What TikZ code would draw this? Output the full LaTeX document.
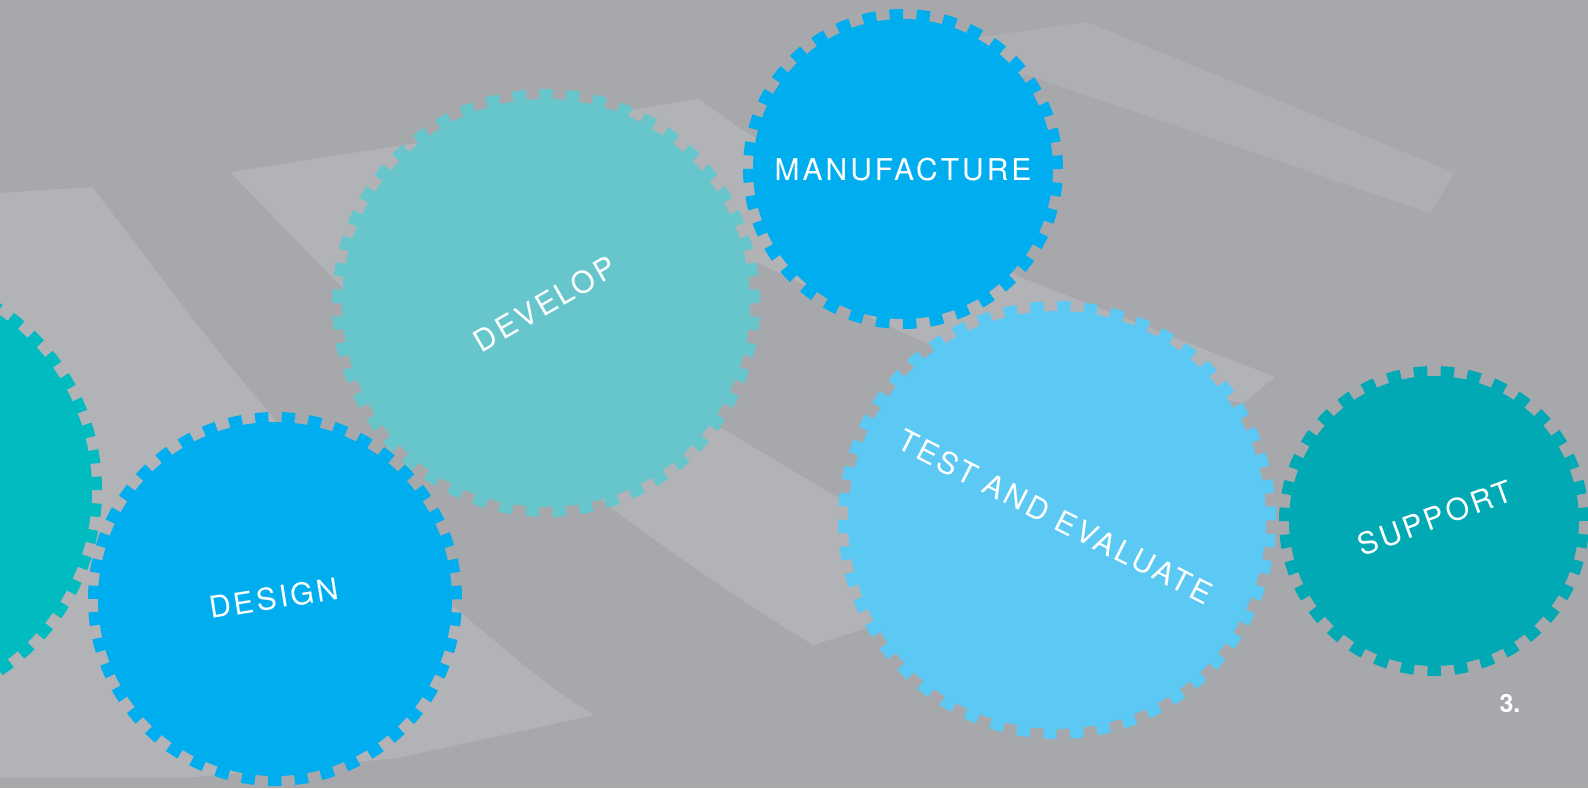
\documentclass[tikz,border=0pt]{standalone}
\usepackage{fontspec}
\newfontfamily\lab[LetterSpace=10]{TeX Gyre Heros}
\newfontfamily\labb{TeX Gyre Heros}
\definecolor{bg}{HTML}{A7A8AB}
\definecolor{band}{HTML}{B2B3B6}
\definecolor{bandc}{HTML}{AEAFB2}
\definecolor{gblue}{HTML}{00AEEF}
\definecolor{gteal}{HTML}{00BCC1}
\definecolor{gdev}{HTML}{66C6CC}
\definecolor{gtest}{HTML}{5BC9F4}
\definecolor{gsup}{HTML}{00A9B4}
\begin{document}
\begin{tikzpicture}[x=1pt,y=-1pt,
  gear/.style n args={3}{circle, inner sep=0pt, outer sep=0pt, minimum size=#1,
     fill=#2, draw=#2, line width=20pt, dash pattern=on #3 off #3},
  lbl/.style={text=white, inner sep=0pt, font=\lab\fontsize{30}{36}\selectfont},
  bandfill/.style={fill=band}]
\useasboundingbox (0,0) rectangle (1588,788);
\clip (0,0) rectangle (1588,788);
\fill[bg] (0,0) rectangle (1588,788);
% band A (left)
\fill[bandfill] (0,193) -- (92,187) .. controls (150,262) and (205,338) .. (267,410)
  .. controls (330,488) and (395,560) .. (454,607)
  .. controls (500,645) and (550,690) .. (594,715)
  -- (398,758) -- (186,778) -- (0,778) -- cycle;
% band B (middle ribbon)
\fill[bandfill] (230,172) -- (699,99) -- (742,130) -- (1020,277) -- (1275,377)
  -- (1243,403) -- (940,350) -- (756,262) -- (660,330) -- (713,423) -- (837,497)
  -- (950,565) -- (950,602) -- (870,627) -- (813,645)
  .. controls (740,600) and (670,552) .. (610,507)
  -- (342,287) .. controls (300,245) and (265,208) .. (230,172) -- cycle;
% band C (upper right)
\fill[bandc] (960,40) -- (1087,22) -- (1455,173)
  -- (1430,213) -- (1033,77) -- (960,60) -- cycle;
% gears
\node[gear={424pt}{gteal}{13.06pt}] (lead) at (-120,490) {};
\node[gear={354pt}{gblue}{12.93pt}] (design) at (275,599) {};
\node[gear={408pt}{gdev}{13.08pt}] (develop) at (546,303) {};
\node[gear={300pt}{gblue}{13.09pt}] (manuf) at (903,169) {};
\node[gear={418pt}{gtest}{13.13pt}] (test) at (1057,520) {};
\node[gear={290pt}{gsup}{13.02pt}] (support) at (1434,521) {};
% labels
\node[lbl, rotate=9] (tdesign) at (274,598) {DESIGN};
\node[lbl, rotate=30] (tdevelop) at (545,304) {DEVELOP};
\node[lbl] (tmanuf) at (903,170) {MANUFACTURE};
\node[lbl, rotate=-27] (ttest) at (1055,517) {TEST AND EVALUATE};
\node[lbl, rotate=20] (tsupport) at (1435,518) {SUPPORT};
\node[text=white, inner sep=0pt, font=\labb\bfseries\fontsize{25}{30}\selectfont] (pnum) at (1510,704) {3.};
\end{tikzpicture}
\end{document}
